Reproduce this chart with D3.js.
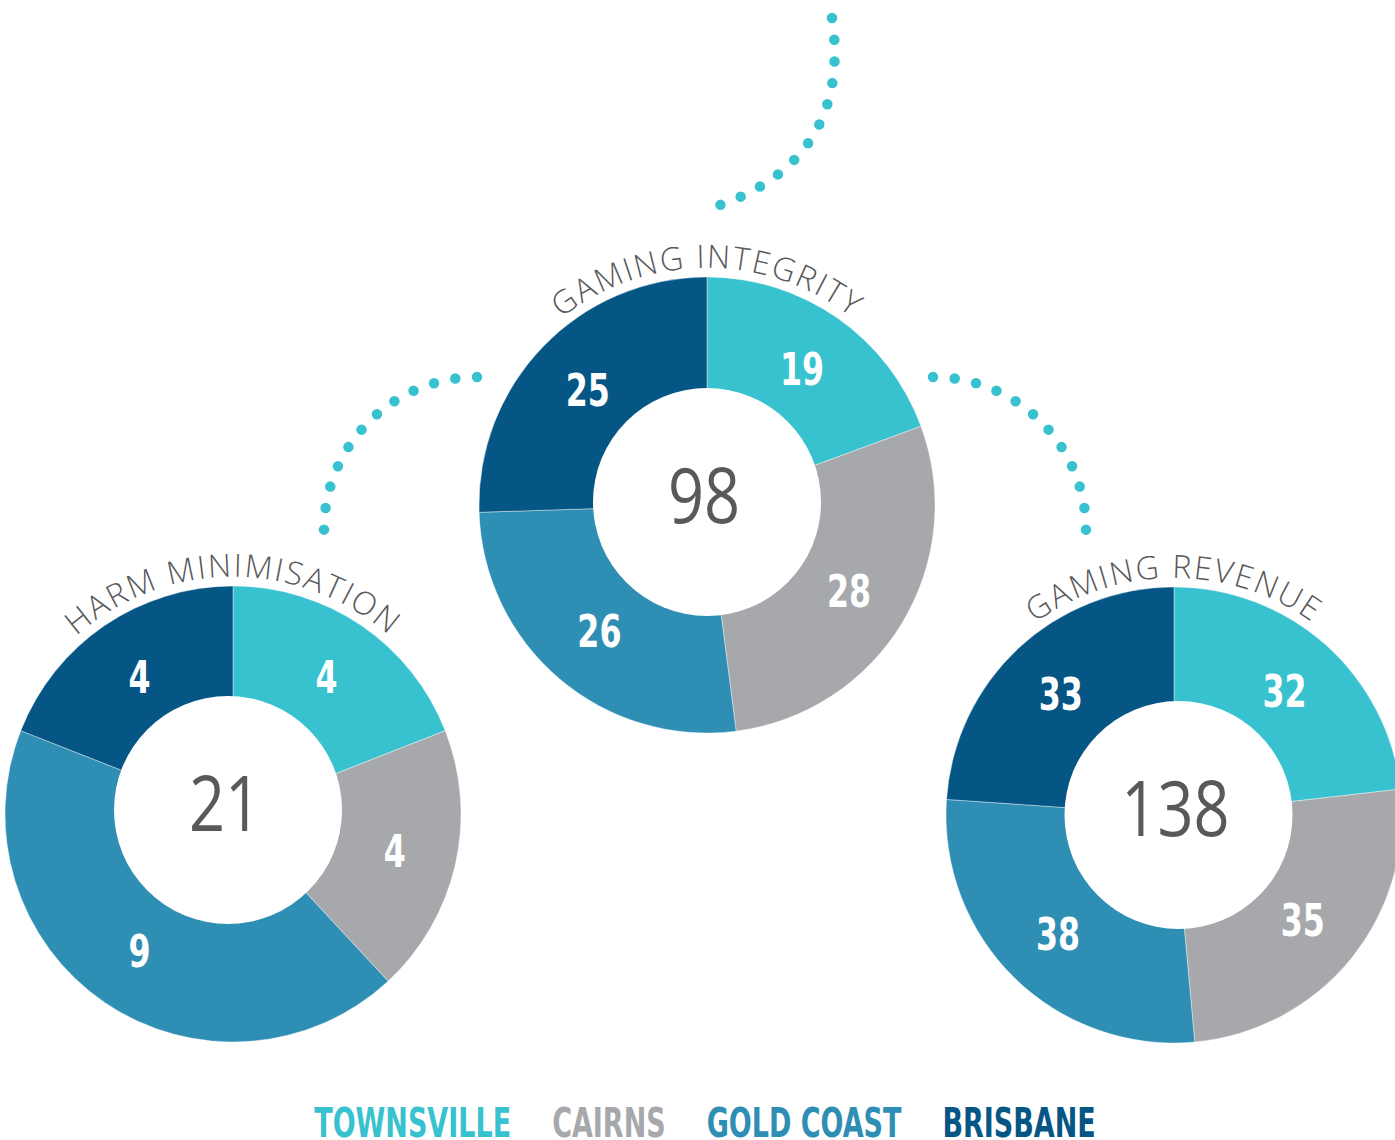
<!DOCTYPE html>
<html>
<head>
<meta charset="utf-8">
<script src="https://cdn.jsdelivr.net/npm/d3@7/dist/d3.min.js"></script>
<style>
body { margin: 0; background: #fff; }
svg { display: block; }
</style>
</head>
<body>
<div id="corpo"></div>
<script>
// data
var regions = ["TOWNSVILLE", "CAIRNS", "GOLD COAST", "BRISBANE"];
var regionColors = ["#38c1cf", "#a7a8ab", "#2e8eb4", "#065685"];
var chartTitles = ["HARM MINIMISATION", "GAMING INTEGRITY", "GAMING REVENUE"];
var harmValues = [4, 4, 9, 4];
var integrityValues = [19, 28, 26, 25];
var revenueValues = [32, 35, 38, 33];

var width = 1395, height = 1140;
var outerR = 228, innerR = 114, titleR = 237, labelR = 166;
var textGrey = "#58595b";
var dotColor = "#38c1cf";
var labelSqueeze = 0.8;  // horizontal squeeze for the bold slice values
var legendSqueeze = 0.75; // and for the legend

var svg = d3.select("#corpo").append("svg")
	.attr("width", width)
	.attr("height", height);

var color = d3.scaleOrdinal().domain(regions).range(regionColors);

/*=== dotted connectors ===*/
var topPath = d3.path();
topPath.moveTo(832, 18);
topPath.bezierCurveTo(845.5, 108, 809, 173.5, 720, 205);

var leftPath = d3.path();
leftPath.moveTo(477, 377);
leftPath.arc(477, 530, 153, -Math.PI / 2, -Math.PI, true);

var rightPath = d3.path();
rightPath.moveTo(933, 377);
rightPath.arc(933, 530, 153, -Math.PI / 2, 0);

svg.append("g").selectAll("path")
	.data([topPath, leftPath, rightPath])
	.enter().append("path")
	.attr("d", function(d) { return d.toString(); })
	.attr("fill", "none")
	.attr("stroke", dotColor)
	.attr("stroke-width", 10.5)
	.attr("stroke-linecap", "round")
	.attr("stroke-dasharray", function() {
		var len = this.getTotalLength();
		return "0 " + ((len - 0.5) / 11); // 12 dots, last one on the end
	});

/*=== donuts ===*/
var donuts = [
	{ title: chartTitles[0], values: harmValues, cx: 233, cy: 814, hx: -5, hy: -4 },
	{ title: chartTitles[1], values: integrityValues, cx: 707, cy: 505, hx: 0, hy: -3 },
	{ title: chartTitles[2], values: revenueValues, cx: 1174, cy: 815, hx: 4.5, hy: 0 }
];

var pie = d3.pie().sort(null).value(function(d) { return d.value; });
var sliceArc = d3.arc().innerRadius(0).outerRadius(outerR);
var labelArc = d3.arc().innerRadius(labelR).outerRadius(labelR);

donuts.forEach(function(dn, k) {
	var g = svg.append("g")
		.attr("transform", "translate(" + dn.cx + "," + dn.cy + ")");

	var rows = dn.values.map(function(v, i) { return { region: regions[i], value: v }; });
	var arcs = pie(rows);

	g.selectAll("path.slice")
		.data(arcs)
		.enter().append("path")
		.attr("class", "slice")
		.attr("d", sliceArc)
		.attr("fill", function(d) { return color(d.data.region); })
		.attr("stroke", "#fff")
		.attr("stroke-opacity", 0.5)
		.attr("stroke-width", 0.8);

	// hole (slightly off centre, as in the print)
	g.append("circle")
		.attr("cx", dn.hx)
		.attr("cy", dn.hy)
		.attr("r", innerR)
		.attr("fill", "#fff");

	// slice values
	g.selectAll("text.val")
		.data(arcs)
		.enter().append("text")
		.attr("class", "val")
		.attr("transform", function(d) {
			var c = labelArc.centroid(d);
			return "translate(" + c[0] + "," + (c[1] + 16) + ") scale(" + labelSqueeze + ",1)";
		})
		.attr("text-anchor", "middle")
		.attr("font-family", "'DejaVu Sans Condensed', 'DejaVu Sans', sans-serif")
		.attr("font-weight", "bold")
		.attr("font-size", 44)
		.attr("fill", "#fff")
		.text(function(d) { return d.data.value; });

	// total
	g.append("text")
		.attr("transform", "translate(" + (dn.hx - 3) + "," + (dn.hy + 21) + ") scale(0.82,1)")
		.attr("text-anchor", "middle")
		.attr("font-family", "'Open Sans', 'Noto Sans', sans-serif")
		.attr("font-size", 77)
		.attr("fill", textGrey)
		.text(d3.sum(dn.values));

	// curved title
	var tp = d3.path();
	tp.arc(0, 0, titleR, Math.PI, 2 * Math.PI);
	g.append("path")
		.attr("id", "titlePath" + k)
		.attr("d", tp.toString())
		.attr("fill", "none");

	g.append("text")
		.attr("font-family", "'Open Sans', 'Noto Sans', sans-serif")
		.attr("font-weight", 300)
		.attr("font-size", 32)
		.attr("letter-spacing", 2)
		.attr("fill", textGrey)
		.append("textPath")
		.attr("href", "#titlePath" + k)
		.attr("startOffset", "50%")
		.attr("text-anchor", "middle")
		.text(dn.title);
});

/*=== legenda ===*/
var legend = svg.append("g").attr("class", "legend");
var legendGap = 41, legendY = 1137;

var items = legend.selectAll("text")
	.data(regions)
	.enter().append("text")
	.attr("font-family", "'DejaVu Sans Condensed', 'DejaVu Sans', sans-serif")
	.attr("font-weight", "bold")
	.attr("font-size", 40)
	.attr("fill", function(d) { return color(d); })
	.text(function(d) { return d; });

var widths = [];
items.each(function() { widths.push(this.getComputedTextLength() * legendSqueeze); });
var total = d3.sum(widths) + legendGap * (widths.length - 1);
var cursor = 705 - total / 2;
items.attr("transform", function(d, i) {
	var x = cursor;
	cursor += widths[i] + legendGap;
	return "translate(" + x + "," + legendY + ") scale(" + legendSqueeze + ",1)";
});
</script>
</body>
</html>
